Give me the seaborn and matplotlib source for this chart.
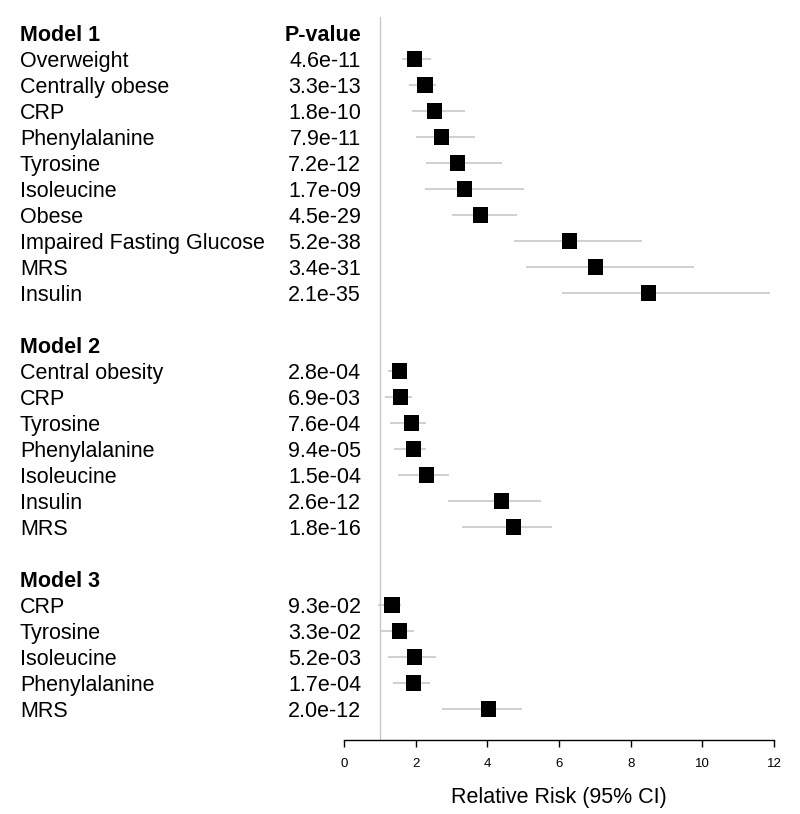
import numpy as np
import pandas as pd
import matplotlib.pyplot as plt
import seaborn as sns
from matplotlib.transforms import blended_transform_factory

sns.set_style('white')
plt.rcParams['font.family'] = ['Liberation Sans', 'DejaVu Sans']
plt.rcParams['text.color'] = 'black'
plt.rcParams['axes.labelcolor'] = 'black'
plt.rcParams['xtick.color'] = 'black'

model_names = ['Model 1', 'Model 2', 'Model 3']

m1_vars = ['Overweight', 'Centrally obese', 'CRP', 'Phenylalanine', 'Tyrosine',
           'Isoleucine', 'Obese', 'Impaired Fasting Glucose', 'MRS', 'Insulin']
m1_rr = [1.98, 2.26, 2.52, 2.71, 3.16, 3.36, 3.81, 6.30, 7.03, 8.49]
m1_lo = [1.61, 1.81, 1.89, 2.01, 2.29, 2.27, 3.01, 4.75, 5.07, 6.07]
m1_hi = [2.42, 2.56, 3.38, 3.66, 4.42, 5.01, 4.82, 8.33, 9.77, 11.90]
m1_p = ['4.6e-11', '3.3e-13', '1.8e-10', '7.9e-11', '7.2e-12',
        '1.7e-09', '4.5e-29', '5.2e-38', '3.4e-31', '2.1e-35']

m2_vars = ['Central obesity', 'CRP', 'Tyrosine', 'Phenylalanine',
           'Isoleucine', 'Insulin', 'MRS']
m2_rr = [1.56, 1.57, 1.88, 1.93, 2.31, 4.39, 4.74]
m2_lo = [1.22, 1.14, 1.29, 1.40, 1.51, 2.91, 3.29]
m2_hi = [1.75, 1.90, 2.30, 2.30, 2.92, 5.49, 5.81]
m2_p = ['2.8e-04', '6.9e-03', '7.6e-04', '9.4e-05', '1.5e-04', '2.6e-12', '1.8e-16']

m3_vars = ['CRP', 'Tyrosine', 'Isoleucine', 'Phenylalanine', 'MRS']
m3_rr = [1.34, 1.54, 1.96, 1.95, 4.02]
m3_lo = [0.94, 1.02, 1.22, 1.38, 2.74]
m3_hi = [1.59, 1.95, 2.56, 2.39, 4.96]
m3_p = ['9.3e-02', '3.3e-02', '5.2e-03', '1.7e-04', '2.0e-12']

groups = [
    (m1_vars, m1_rr, m1_lo, m1_hi, m1_p),
    (m2_vars, m2_rr, m2_lo, m2_hi, m2_p),
    (m3_vars, m3_rr, m3_lo, m3_hi, m3_p),
]

# lay rows out top to bottom: header, variables, one blank row between models
records = []
headers = []
row = 0
for name, (vars_, rr, lo, hi, p) in zip(model_names, groups):
    headers.append((name, row))
    row += 1
    for v, r, l, h, pv in zip(vars_, rr, lo, hi, p):
        records.append({'model': name, 'var': v, 'rr': r, 'lo': l, 'hi': h, 'p': pv, 'row': row})
        row += 1
    row += 1
df = pd.DataFrame(records)

fig = plt.figure(figsize=(8, 8.14), dpi=100)
W, H = 800, 814
ax = fig.add_axes([344 / W, (H - 740) / H, 430 / W, (740 - 17) / H])

ax.axvline(1, color='#c8c8c8', lw=1, zorder=0)
ax.hlines(df['row'], df['lo'], df['hi'], color='#c4c4c4', lw=1.1, zorder=1)
sns.scatterplot(data=df, x='rr', y='row', marker='s', s=118, color='black',
                edgecolor='none', ax=ax, zorder=3, legend=False)

ax.set_xlim(0, 12)
ax.set_ylim((740 - 33) / 26, (17 - 33) / 26)
ax.set_xticks(range(0, 13, 2))
ax.set_yticks([])
ax.set_ylabel('')
ax.set_xlabel('Relative Risk (95% CI)', fontsize=15.5, labelpad=12)
ax.tick_params(axis='x', direction='out', length=5, width=1, labelsize=9.5,
               color='black', pad=8, bottom=True)
for side in ['top', 'right', 'left']:
    ax.spines[side].set_visible(False)
ax.spines['bottom'].set_color('black')
ax.spines['bottom'].set_linewidth(1)

# text columns on the left, placed in figure x and data y
trans = blended_transform_factory(fig.transFigure, ax.transData)
name_x = 20 / W
p_x = 361 / W
fs = 15.5
dy = 0.29  # baseline sits a little below the row centre

for name, r in headers:
    ax.text(name_x, r + dy, name, transform=trans, fontsize=fs, fontweight='bold',
            ha='left', va='baseline', clip_on=False)
ax.text(p_x, headers[0][1] + dy, 'P-value', transform=trans, fontsize=fs,
        fontweight='bold', ha='right', va='baseline', clip_on=False)

for _, rec in df.iterrows():
    ax.text(name_x, rec['row'] + dy, rec['var'], transform=trans, fontsize=fs,
            ha='left', va='baseline', clip_on=False)
    ax.text(p_x, rec['row'] + dy, rec['p'], transform=trans, fontsize=fs,
            ha='right', va='baseline', clip_on=False)

plt.savefig('out.png', dpi=100)
plt.close()
